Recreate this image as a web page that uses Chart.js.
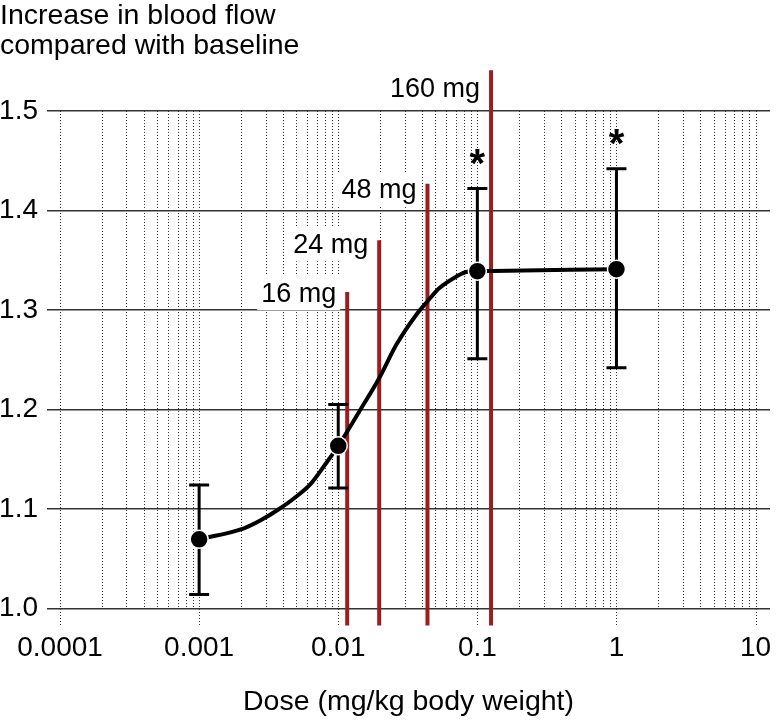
<!DOCTYPE html>
<html>
<head>
<meta charset="utf-8">
<script src="https://cdn.jsdelivr.net/npm/chart.js@4.4.1/dist/chart.umd.min.js"></script>
<style>
  html, body { margin: 0; padding: 0; background: #fff; }
</style>
</head>
<body>
<canvas id="chart" width="781" height="725"></canvas>
<script>
// measured points (dose in mg/kg)
const doses = [0.001, 0.01, 0.1, 1];
const flowMean = [1.0695, 1.1635, 1.339, 1.341];
const flowLow = [1.014, 1.121, 1.251, 1.242];
const flowHigh = [1.124, 1.205, 1.422, 1.442];
const significant = [false, false, true, true];

// fitted curve
const curveDose = [0.001, 0.0021, 0.00279, 0.00376, 0.00482, 0.00639, 0.00832, 0.01, 0.01414, 0.01968,
    0.02608, 0.03631, 0.04357, 0.05313, 0.07041, 0.08446, 0.1, 1];
const curveFlow = [1.0695, 1.0806, 1.0889, 1.100, 1.1108, 1.1258, 1.1475, 1.1633, 1.1978, 1.2314,
    1.2648, 1.295, 1.3083, 1.3218, 1.3335, 1.3385, 1.339, 1.341];

// human equivalent doses
const doseLabels = ['16 mg', '24 mg', '48 mg', '160 mg'];
const doseLineX = [0.0116, 0.0197, 0.0438, 0.1255];
const doseLineTop = [1.318, 1.370, 1.427, 1.541];
const doseLabelLevel = [1.317, 1.366, 1.4215, 1.523];

const xTicks = [0.0001, 0.001, 0.01, 0.1, 1, 10];
const xTickLabels = ['0.0001', '0.001', '0.01', '0.1', '1', '10'];
const yTicks = [1.0, 1.1, 1.2, 1.3, 1.4, 1.5];
const yTickLabels = ['1.0', '1.1', '1.2', '1.3', '1.4', '1.5'];

Chart.defaults.font.family = "'Liberation Sans', Arial, sans-serif";
Chart.defaults.color = '#000';

const RED = '#9c1c20';

const doseLinesPlugin = {
    id: 'doseLines',
    beforeDatasetsDraw(chart) {
        const ctx = chart.ctx;
        const x = chart.scales.x;
        const y = chart.scales.y;
        const area = chart.chartArea;
        const top = y.getPixelForValue(1.5);

        // dotted log grid
        ctx.save();
        ctx.strokeStyle = '#333';
        ctx.lineWidth = 1;
        ctx.setLineDash([1, 2]);
        for (let e = -4; e <= 1; e++) {
            for (let k = 1; k <= 9; k++) {
                const v = k * Math.pow(10, e);
                if (v > x.max) break;
                const px = Math.round(x.getPixelForValue(v)) + 0.5;
                ctx.beginPath();
                ctx.moveTo(px, top);
                ctx.lineTo(px, k === 1 ? area.bottom + 17 : area.bottom);
                ctx.stroke();
            }
        }
        ctx.restore();

        // dose labels with white box
        ctx.save();
        ctx.font = "27px 'Liberation Sans', Arial, sans-serif";
        ctx.textAlign = 'right';
        ctx.textBaseline = 'middle';
        doseLabels.forEach((lab, i) => {
            const px = x.getPixelForValue(doseLineX[i]) - 11;
            const py = y.getPixelForValue(doseLabelLevel[i]);
            const w = ctx.measureText(lab).width;
            ctx.fillStyle = '#fff';
            ctx.fillRect(px - w - 4, py - 17, w + 8, 34);
            ctx.fillStyle = '#000';
            ctx.fillText(lab, px, py + 1);
        });
        ctx.restore();

        // red dose lines
        ctx.save();
        ctx.strokeStyle = RED;
        ctx.lineWidth = 4;
        doseLineX.forEach((d, i) => {
            const px = x.getPixelForValue(d);
            ctx.beginPath();
            ctx.moveTo(px, y.getPixelForValue(doseLineTop[i]));
            ctx.lineTo(px, area.bottom + 17);
            ctx.stroke();
        });
        ctx.restore();

        // error bars
        ctx.save();
        ctx.strokeStyle = '#000';
        ctx.lineWidth = 3;
        doses.forEach((d, i) => {
            const px = x.getPixelForValue(d);
            const lo = y.getPixelForValue(flowLow[i]);
            const hi = y.getPixelForValue(flowHigh[i]);
            ctx.beginPath();
            ctx.moveTo(px, lo);
            ctx.lineTo(px, hi);
            ctx.moveTo(px - 10, lo);
            ctx.lineTo(px + 10, lo);
            ctx.moveTo(px - 10, hi);
            ctx.lineTo(px + 10, hi);
            ctx.stroke();
        });
        ctx.restore();
    },
    afterDatasetsDraw(chart) {
        const ctx = chart.ctx;
        const x = chart.scales.x;
        const y = chart.scales.y;
        ctx.save();
        ctx.font = "bold 40px 'Liberation Sans', Arial, sans-serif";
        ctx.textAlign = 'center';
        ctx.textBaseline = 'alphabetic';
        ctx.fillStyle = '#000';
        doses.forEach((d, i) => {
            if (!significant[i]) return;
            ctx.fillText('*', x.getPixelForValue(d), y.getPixelForValue(flowHigh[i]) - 12);
        });
        ctx.restore();
    }
};

new Chart(document.getElementById('chart'), {
    type: 'scatter',
    data: {
        datasets: [{
            label: 'Blood flow',
            data: doses.map((d, i) => ({ x: d, y: flowMean[i] })),
            pointRadius: 9,
            pointBackgroundColor: '#000',
            pointBorderColor: '#fff',
            pointBorderWidth: 1.5,
            showLine: false,
            order: 0
        }, {
            label: 'Fit',
            data: curveDose.map((d, i) => ({ x: d, y: curveFlow[i] })),
            showLine: true,
            borderColor: '#000',
            borderWidth: 4,
            pointRadius: 0,
            cubicInterpolationMode: 'monotone',
            order: 1
        }]
    },
    options: {
        responsive: false,
        animation: false,
        devicePixelRatio: 1,
        layout: { padding: { left: 0, right: 11, top: 0, bottom: 0 } },
        plugins: {
            legend: { display: false },
            tooltip: { enabled: false },
            title: {
                display: true,
                text: ['Increase in blood flow', 'compared with baseline'],
                align: 'start',
                color: '#000',
                font: { size: 28.5, weight: 'normal', lineHeight: 30 / 28.5 },
                padding: { top: 1, bottom: 50 }
            }
        },
        scales: {
            x: {
                type: 'logarithmic',
                min: 8.06e-5,
                max: 12.7,
                border: { display: false },
                grid: { display: true, drawOnChartArea: false, drawTicks: true, tickLength: 23, tickColor: 'rgba(0,0,0,0)' },
                afterBuildTicks: s => { s.ticks = xTicks.map(v => ({ value: v })); },
                afterFit: s => { s.height = 116.5; },
                ticks: {
                    font: { size: 28 },
                    color: '#000',
                    padding: 0,
                    maxRotation: 0,
                    autoSkip: false,
                    callback: (v, i) => xTickLabels[i]
                },
                title: {
                    display: true,
                    text: 'Dose (mg/kg body weight)',
                    color: '#000',
                    font: { size: 28.5 },
                    padding: { top: 20, bottom: 6 }
                }
            },
            y: {
                min: 1.0,
                max: 1.5,
                border: { display: false },
                grid: { color: '#333', lineWidth: 1.5, drawTicks: false },
                afterBuildTicks: s => { s.ticks = yTicks.map(v => ({ value: v })); },
                afterFit: s => { s.width = 47; },
                ticks: {
                    font: { size: 28 },
                    color: '#000',
                    padding: 9,
                    callback: (v, i) => yTickLabels[i]
                }
            }
        }
    },
    plugins: [doseLinesPlugin]
});
</script>
</body>
</html>
